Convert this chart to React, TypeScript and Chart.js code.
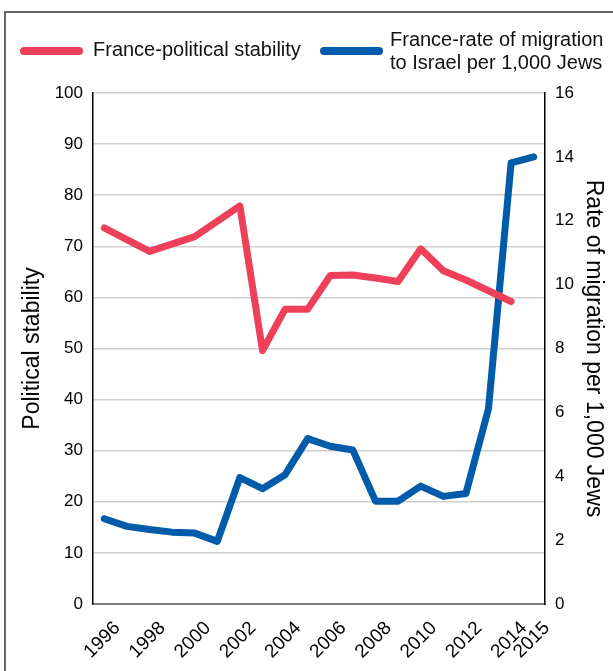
import React, { useEffect, useRef } from "react";
import { Chart, registerables } from "chart.js";

Chart.register(...registerables);

const years = ["1996","1997","1998","1999","2000","2001","2002","2003","2004","2005","2006","2007","2008","2009","2010","2011","2012","2013","2014","2015"];
const shownYearLabels = ["1996","1998","2000","2002","2004","2006","2008","2010","2012","2014","2015"];
const politicalStability = [73.6, null, 69.0, null, 71.9, null, 77.9, 49.6, 57.7, 57.7, 64.3, 64.4, 63.8, 63.1, 69.5, 65.2, 63.4, 61.3, 59.2, null];
const migrationRate = [2.67, 2.43, 2.33, 2.25, 2.22, 1.96, 3.96, 3.61, 4.05, 5.18, 4.94, 4.82, 3.22, 3.22, 3.69, 3.37, 3.46, 6.12, 13.81, 14.0];
const stabilityLabel = "France-political stability";
const migrationLabelLines = ["France-rate of migration", "to Israel per 1,000 Jews"];
const leftTitle = "Political stability";
const rightTitle = "Rate of migration per 1,000 Jews";

const RED = "#EE4159";
const BLUE = "#005BAA";
const FONT = "'Liberation Sans', Arial, sans-serif";

export default function App() {
  const ref = useRef<HTMLCanvasElement | null>(null);
  useEffect(() => {
    if (!ref.current) return;
    const chart = new Chart(ref.current, {
      type: "line",
      data: {
        labels: years,
        datasets: [
          {
            label: stabilityLabel,
            data: politicalStability,
            borderColor: RED,
            backgroundColor: RED,
            borderWidth: 7,
            borderCapStyle: "round",
            borderJoinStyle: "round",
            pointRadius: 0,
            spanGaps: true,
            tension: 0,
            yAxisID: "y",
            clip: false as any,
          },
          {
            label: migrationLabelLines.join(" "),
            data: migrationRate,
            borderColor: BLUE,
            backgroundColor: BLUE,
            borderWidth: 7,
            borderCapStyle: "round",
            borderJoinStyle: "round",
            pointRadius: 0,
            spanGaps: true,
            tension: 0,
            yAxisID: "y1",
            clip: false as any,
          },
        ],
      },
      options: {
        responsive: false,
        animation: false,
        devicePixelRatio: 1,
        layout: { padding: { top: 93, left: 0, right: 0, bottom: 0 } },
        plugins: { legend: { display: false }, tooltip: { enabled: false } },
        scales: {
          x: {
            type: "category",
            offset: true,
            grid: { display: false, drawTicks: false },
            border: { display: true, color: "#808080", width: 2 },
            ticks: {
              autoSkip: false,
              maxRotation: 45,
              minRotation: 45,
              padding: 13,
              labelOffset: 13,
              color: "#000",
              font: { family: FONT, size: 19 },
              callback: function (this: any, value: any) {
                const lab = this.getLabelForValue(value);
                return shownYearLabels.includes(lab) ? lab : "";
              },
            },
            afterFit: (s: any) => { s.height = 67; },
          },
          y: {
            position: "left",
            min: 0,
            max: 100,
            ticks: { stepSize: 10, padding: 10, color: "#000", font: { family: FONT, size: 17 } },
            grid: { color: "#cfcfcf", lineWidth: 1.5, drawTicks: false },
            border: { display: true, color: "#000", width: 1.5 },
            title: { display: true, text: leftTitle, color: "#000", font: { family: FONT, size: 23 }, padding: { top: 19, bottom: 0 } },
            afterFit: (s: any) => { s.width = 93; },
          },
          y1: {
            position: "right",
            min: 0,
            max: 16,
            ticks: { stepSize: 2, padding: 10, color: "#000", font: { family: FONT, size: 17 } },
            grid: { display: false, drawTicks: false },
            border: { display: true, color: "#000", width: 1.5 },
            title: { display: true, text: rightTitle, color: "#000", font: { family: FONT, size: 23 }, padding: { top: 6, bottom: 0 } },
            afterFit: (s: any) => { s.width = 68; },
          },
        },
      },
    });
    return () => chart.destroy();
  }, []);

  const textStyle: React.CSSProperties = {
    position: "absolute",
    fontFamily: FONT,
    fontSize: 20,
    lineHeight: "23px",
    color: "#111",
    whiteSpace: "nowrap",
  };

  return (
    <div style={{ position: "absolute", left: 0, top: 0, width: 613, height: 671, overflow: "hidden", background: "#fff" }}>
      <div style={{ position: "absolute", left: 4, top: 11, width: 700, height: 700, borderTop: "2px solid #666", borderLeft: "2px solid #666" }} />
      <canvas ref={ref} width={613} height={671} style={{ position: "absolute", left: 0, top: 0, width: 613, height: 671 }} />
      <div style={{ position: "absolute", left: 20, top: 47, width: 63, height: 8, borderRadius: 4, background: RED }} />
      <div style={{ ...textStyle, left: 93, top: 38 }}>{stabilityLabel}</div>
      <div style={{ position: "absolute", left: 320, top: 47, width: 63, height: 8, borderRadius: 4, background: BLUE }} />
      <div style={{ ...textStyle, left: 390, top: 28 }}>
        {migrationLabelLines.map((l) => (
          <div key={l}>{l}</div>
        ))}
      </div>
    </div>
  );
}
